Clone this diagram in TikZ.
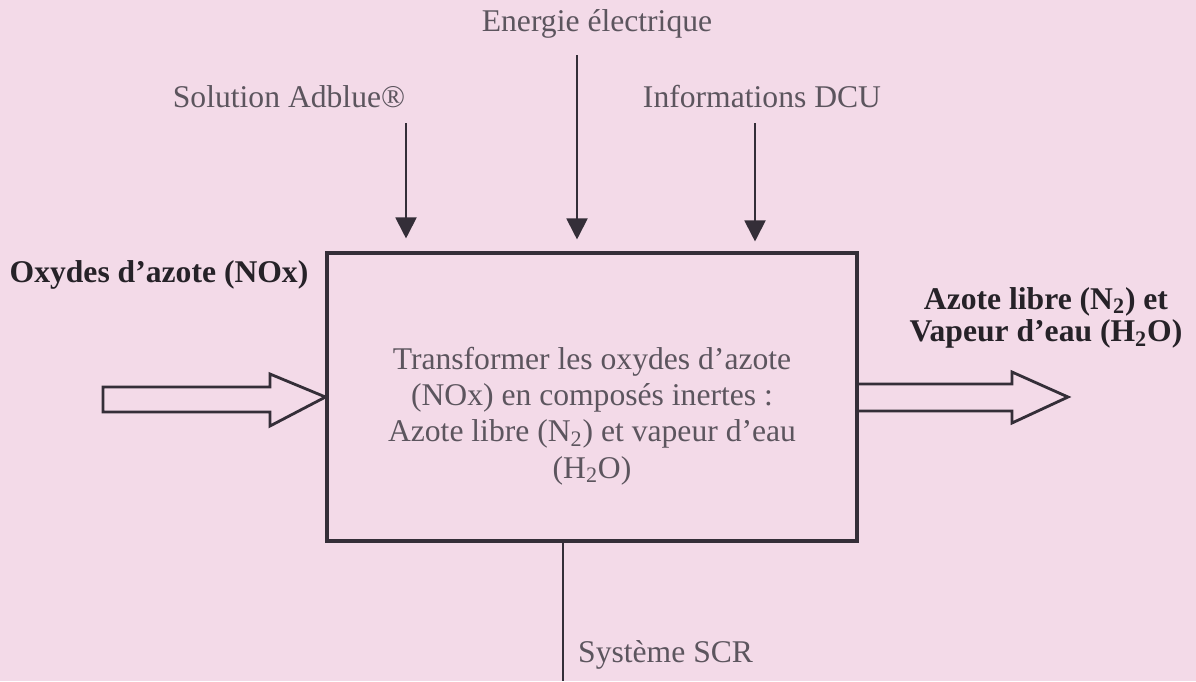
\documentclass[tikz,border=0pt]{standalone}
\usepackage{fontspec}
\setmainfont{Liberation Serif}
\usepackage{tikz}
\usetikzlibrary{arrows.meta,positioning,calc}
\definecolor{pagebg}{RGB}{243,218,232}
\definecolor{inkline}{RGB}{52,46,56}
\definecolor{inktext}{RGB}{38,34,40}
\definecolor{softtext}{RGB}{92,85,94}
\tikzset{
  flow/.style={inkline, line width=1.1pt, -{Triangle[length=0.42cm,width=0.42cm]}},
  bigarrow/.style={inkline, line width=1.6pt, line join=miter},
  toplabel/.style={softtext, font=\fontsize{18}{21}\selectfont},
  sidelabel/.style={inktext, font=\fontsize{18}{18.5}\selectfont\bfseries, align=center}
}

\begin{document}
\begin{tikzpicture}[x=0.02cm, y=-0.02cm]
    % page
    \fill[pagebg] (0,0) rectangle (1196,681);
    \useasboundingbox (0,0) rectangle (1196,681);
    % Function box
    \node[draw=inkline, line width=1.8pt, minimum width=10.6cm, minimum height=5.76cm] (box) at (592,397) {};
    \node[softtext, align=center, font=\fontsize{18}{20.7}\selectfont] (fn) at (592,416)
      {Transformer les oxydes d’azote\\(NOx) en composés inertes :\\Azote libre (N\textsubscript{2}) et vapeur d’eau\\(H\textsubscript{2}O)};
    % Control inputs from above
    \node[toplabel] (energie) at (597,24) {Energie électrique};
    \node[toplabel] (adblue) at (289,97) {Solution Adblue®};
    \node[toplabel] (dcu) at (762,97) {Informations DCU};
    \coordinate (sa) at (406,123);
    \coordinate (se) at (577,55);
    \coordinate (sd) at (755,123);
    \draw[flow, shorten >=0.26cm] (sa) -- (sa |- box.north);
    \draw[flow, shorten >=0.24cm] (se) -- (se |- box.north);
    \draw[flow, shorten >=0.2cm] (sd) -- (sd |- box.north);
    % Matter in
    \node[sidelabel] (nox) at (159,275) {Oxydes d’azote (NOx)};
    \draw[bigarrow] (103,387) -- (270,387) -- (270,374) -- (box.west) -- (270,426) -- (270,412) -- (103,412) -- cycle;
    % Matter out
    \node[sidelabel] (out) at (1046,318) {Azote libre (N\textsubscript{2}) et\\Vapeur d’eau (H\textsubscript{2}O)};
    \draw[bigarrow] ($(box.east)+(0,-13)$) -- (1012,384) -- (1012,372) -- (1068,397) -- (1012,423) -- (1012,411) -- ($(box.east)+(0,14)$);
    % Support
    \coordinate (sup) at (563,681);
    \draw[inkline, line width=1pt] (box.south -| sup) -- (sup);
    \node[toplabel, anchor=west] (scr) at (572,655) {Système SCR};
  \end{tikzpicture}
\end{document}
